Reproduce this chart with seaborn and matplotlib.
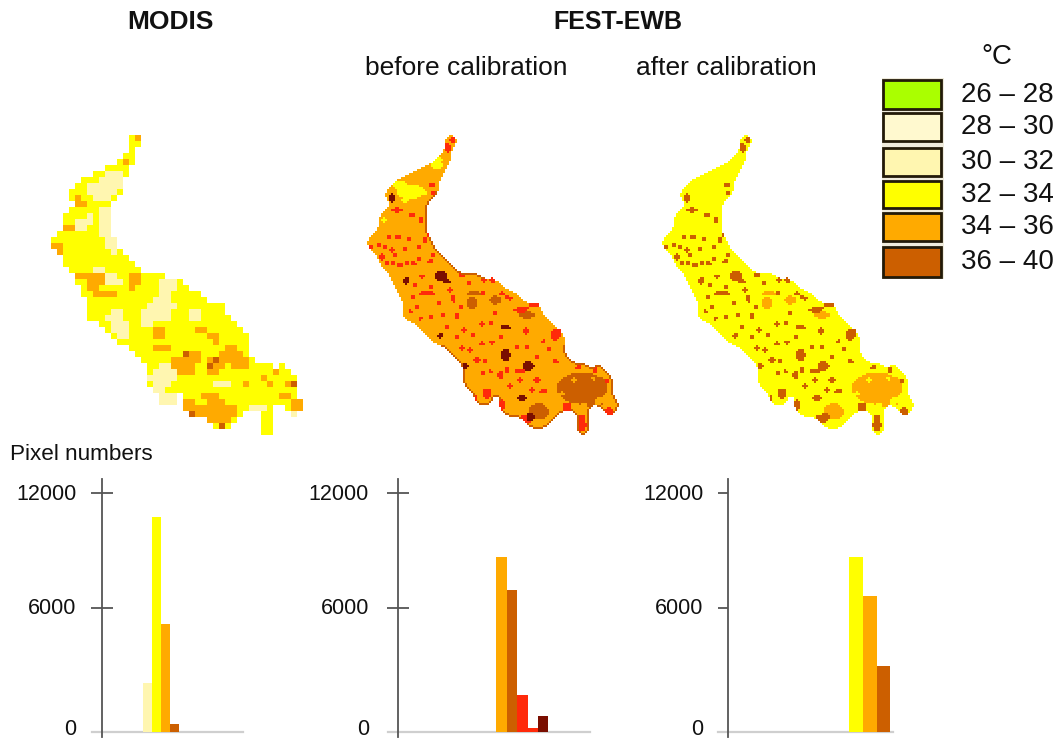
import numpy as np
import matplotlib
matplotlib.use("Agg")
import matplotlib.pyplot as plt
from matplotlib.colors import ListedColormap
from matplotlib.patches import Rectangle
from matplotlib.transforms import ScaledTranslation
import seaborn as sns

sns.set_style("white")
plt.rcParams['font.family'] = ['Liberation Sans', 'DejaVu Sans']

W, H = 1056, 738

# ---- histogram data ----
bins = ['30-32', '32-34', '34-36', '36-40', '40-44', '44-48', '48-52']
modis_counts = [2370, 10750, 5230, 390, 0, 0, 0]
before_counts = [0, 0, 8660, 6940, 1790, 195, 775]
after_counts = [0, 8660, 6630, 3190, 0, 0, 0]
tick_values = [0, 6000, 12000]
tick_labels = ['0', '6000', '12000']
axis_values = [-500, 0, 6000, 12000, 14000]
axis_heights = [-10, 0, 124, 239, 270]

# ---- colours ----
GREEN, PALE1, PALE2, YEL, ORA, DRK, RED, BRN = ('#aaff00', '#fff9cf', '#fff6b0', '#ffff00',
                                                '#ffaa00', '#cc5f00', '#ff2a0a', '#7a0e00')
bar_colors = dict(zip(bins, ['#fff6b0', YEL, ORA, DRK, RED, RED, BRN]))
legend_labels = ['26 – 28', '28 – 30', '30 – 32', '32 – 34', '34 – 36', '36 – 40']
legend_colors = [GREEN, PALE1, PALE2, YEL, ORA, DRK]
legend_tops = [80, 113, 148, 181, 213, 247]
legend_bottoms = [109, 141, 176, 208, 241, 277]

# ---- map outline: row -> inclusive column spans of the 6-px MODIS grid ----
outline = [
    [(13, 14)], [(13, 14)], [(13, 13)], [(12, 13)], [(11, 13)], [(9, 12)], [(7, 12)], [(5, 11)],
    [(4, 11)], [(3, 11)], [(3, 10)], [(4, 9)], [(3, 9)], [(2, 9)], [(2, 9)], [(2, 9)],
    [(1, 9)], [(0, 10)], [(0, 10)], [(1, 11)], [(2, 12)], [(2, 13)], [(3, 14)], [(4, 18)],
    [(4, 21)], [(5, 22)], [(5, 24)], [(6, 25)], [(6, 28)], [(6, 28)], [(6, 29)], [(8, 30)],
    [(9, 31)], [(10, 32)], [(11, 32)], [(13, 32)], [(14, 32)], [(15, 33)], [(16, 36), (38, 38)], [(16, 39)],
    [(16, 40)], [(16, 40)], [(17, 40)], [(18, 20), (22, 40)], [(18, 20), (22, 41)],
    [(22, 32), (33, 36), (39, 41)], [(23, 31), (35, 36), (40, 40)], [(26, 30), (35, 36)],
    [(27, 29), (35, 36)], [(35, 36)],
]

# ---- MODIS patches: (row, first col, last col) ----
modis_pale = [
    (6, 9, 11), (7, 8, 11), (8, 6, 11), (9, 6, 10), (10, 7, 9), (12, 8, 9), (13, 6, 6), (13, 8, 9),
    (14, 4, 6), (14, 8, 9), (15, 4, 5), (15, 8, 9), (16, 8, 9), (17, 9, 10), (18, 9, 10), (19, 10, 10),
    (22, 7, 8), (23, 8, 10), (24, 9, 11), (24, 18, 20), (25, 18, 20), (26, 18, 19),
    (27, 17, 19), (28, 16, 20), (29, 15, 19), (30, 15, 19), (31, 15, 16), (29, 23, 24), (30, 23, 24),
    (29, 10, 11), (30, 9, 11), (31, 10, 12), (32, 10, 12), (33, 11, 12),
    (38, 18, 19), (39, 17, 20), (40, 16, 20), (41, 17, 19), (42, 17, 18), (43, 18, 20), (44, 18, 20),
    (41, 27, 29), (45, 33, 35), (46, 40, 40),
]
modis_orange = [
    (11, 4, 5), (10, 4, 4), (15, 2, 3), (18, 0, 1), (19, 1, 1), (23, 4, 5), (23, 6, 8), (24, 6, 8),
    (25, 6, 7), (26, 7, 10), (23, 13, 14), (24, 13, 14), (25, 13, 13), (32, 17, 18), (33, 17, 18),
    (35, 17, 19), (32, 24, 25), (33, 26, 27), (34, 27, 27), (36, 22, 24), (37, 20, 24), (38, 20, 23),
    (39, 21, 23), (37, 26, 28), (38, 26, 28), (39, 26, 27), (35, 29, 30), (36, 28, 31), (37, 29, 32),
    (38, 30, 32), (44, 22, 23), (45, 22, 23), (46, 23, 23), (43, 25, 27), (44, 26, 28), (45, 24, 30),
    (46, 24, 30), (47, 26, 29), (41, 32, 32), (40, 35, 35), (41, 36, 36), (39, 37, 37), (43, 38, 39),
    (41, 39, 40), (44, 40, 41), (45, 40, 41), (0, 14, 14), (4, 12, 12),
]
modis_dark = [(36, 22, 22), (37, 27, 27), (38, 26, 26), (41, 40, 40), (46, 23, 23), (48, 28, 28)]

# ---- FEST-EWB speckle: (x, y, w, h) on the 1/3-pixel map sheet ----
fest_bumps = [
    (555, 525, 28, 14), (520, 535, 30, 12), (620, 610, 25, 30), (695, 885, 25, 40), (735, 720, 14, 22),
    (685, 712, 18, 14), (770, 755, 14, 12), (480, 505, 10, 12), (455, 490, 10, 12), (425, 450, 10, 10),
    (400, 450, 10, 10), (335, 435, 12, 10), (308, 30, 12, 26), (295, 55, 14, 26),
]
fest_brown = [
    (272, 440, 38, 32), (168, 452, 18, 22), (270, 617, 17, 17), (465, 592, 30, 16), (465, 675, 30, 40),
    (535, 708, 32, 30), (345, 708, 16, 22), (515, 805, 25, 20), (125, 205, 15, 28), (290, 455, 20, 10),
    (540, 860, 25, 25),
]
fest_red = [
    (60, 350, 20, 15), (95, 380, 12, 20), (150, 405, 20, 15), (190, 400, 15, 15), (143, 322, 15, 10),
    (115, 320, 10, 10), (175, 325, 10, 10), (105, 350, 10, 8), (85, 410, 10, 10), (135, 375, 8, 8),
    (165, 355, 10, 8), (230, 490, 45, 12), (190, 500, 12, 8), (240, 395, 20, 8), (205, 350, 8, 8),
    (185, 255, 15, 15), (140, 240, 30, 10), (212, 270, 10, 20), (250, 375, 10, 10), (225, 330, 8, 25),
    (250, 190, 8, 15), (245, 165, 8, 15), (290, 50, 15, 30), (305, 30, 12, 20), (528, 603, 20, 20),
    (615, 615, 30, 35), (550, 525, 25, 12), (510, 540, 40, 15), (510, 723, 30, 12), (405, 695, 15, 10),
    (380, 690, 25, 15), (335, 655, 15, 12), (395, 583, 12, 10), (367, 613, 12, 10), (398, 730, 10, 16),
    (450, 735, 18, 22), (410, 790, 25, 30), (480, 768, 8, 8), (560, 750, 18, 10), (510, 750, 10, 10),
    (425, 638, 8, 10), (310, 505, 10, 25), (320, 560, 8, 18), (265, 520, 10, 10), (210, 565, 10, 8),
    (470, 500, 12, 15), (400, 490, 12, 8), (355, 460, 10, 8), (430, 450, 8, 8), (580, 635, 10, 10),
    (595, 655, 10, 10), (615, 695, 18, 14), (435, 548, 15, 10), (650, 830, 30, 25), (695, 875, 20, 45),
    (775, 845, 25, 25), (530, 865, 40, 25), (455, 825, 14, 35), (375, 805, 15, 15), (235, 310, 8, 20),
    (420, 725, 8, 8), (580, 785, 25, 10),
    (125, 360, 8, 8), (85, 345, 8, 8), (130, 400, 8, 8), (110, 400, 10, 8), (205, 385, 8, 8), (170, 400, 8, 8),
    (215, 440, 8, 8), (240, 470, 8, 8), (195, 465, 8, 8), (300, 480, 8, 8), (330, 530, 8, 8), (290, 590, 8, 8),
    (320, 620, 8, 8), (360, 660, 8, 8), (240, 560, 8, 8), (200, 530, 8, 8), (420, 580, 6, 6), (450, 620, 8, 8),
    (395, 640, 6, 6), (500, 650, 8, 8), (560, 680, 8, 8), (530, 650, 8, 8), (470, 720, 8, 8), (545, 780, 8, 8),
    (340, 600, 6, 6), (280, 555, 6, 6), (180, 545, 8, 8),
]
fest_dark = [
    (695, 775, 150, 95), (650, 765, 50, 50), (740, 760, 50, 40), (720, 815, 80, 30), (565, 845, 60, 50),
    (435, 510, 35, 25), (365, 520, 30, 35), (530, 555, 45, 20), (370, 490, 40, 10),
]
fest_holes = [(730, 745, 14, 14), (670, 750, 12, 12), (745, 815, 24, 24), (700, 825, 16, 10), (635, 790, 14, 14)]
fest_yellow = [
    (180, 185, 85, 45), (150, 165, 40, 25), (260, 105, 35, 28), (215, 190, 30, 15), (165, 210, 20, 10),
    (265, 90, 25, 15), (100, 270, 10, 10),
]
# rim of the "before" map: (first fine row, last fine row, first fine col) kept dark
rim_sections = [(28, 72, 24), (105, 150, 0)]


def axes_px(x0, y0, x1, y1):
    return fig.add_axes([x0 / W, 1 - y1 / H, (x1 - x0) / W, (y1 - y0) / H])


def base_grid():
    g = np.full((50, 42), np.nan)
    for r, spans in enumerate(outline):
        for a, b in spans:
            g[r, a:b + 1] = 1
    return g


def paint_rows(g, items, code):
    for r, a, b in items:
        part = g[r, a:b + 1]
        part[~np.isnan(part)] = code


SHEET_CELL = 6  # sheet units per fine cell


def paint_blobs(g, blobs, code, fill_empty=False):
    rows, cols = np.indices(g.shape)
    xs = cols * SHEET_CELL + 50 + SHEET_CELL / 2
    ys = rows * SHEET_CELL + 15 + SHEET_CELL / 2
    for x, y, w, h in blobs:
        rx, ry = max(w, 14) / 2, max(h, 14) / 2
        hit = ((xs - x) / rx) ** 2 + ((ys - y) / ry) ** 2 <= 1
        if not fill_empty:
            hit &= ~np.isnan(g)
        g[hit] = code


def smooth_mask(land, k=5):
    pad = k // 2
    p = np.pad(land.astype(float), pad)
    c = np.cumsum(np.cumsum(np.pad(p, ((1, 0), (1, 0))), axis=0), axis=1)
    s = c[k:, k:] - c[:-k, k:] - c[k:, :-k] + c[:-k, :-k]
    return s / (k * k) > 0.5


def boundary(land):
    p = np.pad(land, 1)
    inner = p[1:-1, 1:-1] & p[:-2, 1:-1] & p[2:, 1:-1] & p[1:-1, :-2] & p[1:-1, 2:]
    return land & ~inner


fig = plt.figure(figsize=(W / 100, H / 100), dpi=100, facecolor='white')

# ---- maps ----
codes = [PALE2, YEL, ORA, DRK, RED, BRN]   # 0..5
cmap = ListedColormap(codes)


def draw_map(g, x0, y0, cell):
    ax = axes_px(x0, y0, x0 + g.shape[1] * cell, y0 + g.shape[0] * cell)
    sns.heatmap(g, cmap=cmap, vmin=-0.5, vmax=5.5, cbar=False, xticklabels=False,
                yticklabels=False, ax=ax, linewidths=0)
    ax.patch.set_alpha(0)
    return ax


gm = base_grid()
paint_rows(gm, modis_pale, 0)
paint_rows(gm, modis_orange, 2)
paint_rows(gm, modis_dark, 3)
draw_map(gm, 50.7, 135, 6)

land = smooth_mask(np.kron(~np.isnan(base_grid()), np.ones((3, 3), dtype=bool)))
rim = boundary(land)
rim_keep = np.zeros_like(rim)
for r0, r1, c0 in rim_sections:
    rim_keep[r0:r1, c0:] = True

g_before = np.where(land, 2.0, np.nan)
paint_blobs(g_before, fest_bumps, 4, fill_empty=True)
g_before[rim & rim_keep] = 3
paint_blobs(g_before, fest_yellow, 1)
paint_blobs(g_before, fest_dark, 3)
paint_blobs(g_before, fest_holes, 2)
paint_blobs(g_before, fest_red, 4)
paint_blobs(g_before, fest_brown, 5)
draw_map(g_before, 366.7, 135, 2)

g_after = np.where(land, 1.0, np.nan)
paint_blobs(g_after, fest_bumps, 3, fill_empty=True)
paint_blobs(g_after, fest_dark, 2)
paint_blobs(g_after, fest_holes, 1)
paint_blobs(g_after, fest_red, 3)
paint_blobs(g_after, fest_brown, 3)
draw_map(g_after, 661.7, 135, 2)


# ---- histograms ----
def forward(v):
    return np.interp(v, axis_values, axis_heights)


def inverse(h):
    return np.interp(h, axis_heights, axis_values)


label_lift_px = [5, 2, 1]


def draw_hist(counts, x0, x1, spine_x, ref_idx, ref_center, unit, tick_dir, tick_len, pad):
    ax = axes_px(x0, 479, x1, 737)
    sns.barplot(x=bins, y=counts, order=bins, hue=bins, palette=bar_colors, width=1,
                saturation=1, legend=False, linewidth=0, ax=ax)
    ax.set_xlim(ref_idx + (x0 - ref_center) / unit, ref_idx + (x1 - ref_center) / unit)
    ax.set_yscale('function', functions=(forward, inverse))
    ax.set_ylim(inverse(-5), inverse(253))
    ax.set_yticks(tick_values, tick_labels)
    ax.set_xticks([])
    ax.minorticks_off()
    ax.patch.set_alpha(0)
    for s in ('top', 'right'):
        ax.spines[s].set_visible(False)
    ax.spines['left'].set_position(('axes', (spine_x - x0) / (x1 - x0)))
    ax.spines['left'].set_color('#555555')
    ax.spines['left'].set_linewidth(1.3)
    ax.spines['bottom'].set_position(('data', 0))
    ax.spines['bottom'].set_color('#cfcfcf')
    ax.spines['bottom'].set_linewidth(1.6)
    ax.spines['bottom'].set_zorder(0.5)
    ax.tick_params(axis='y', which='major', direction=tick_dir, length=tick_len, width=1.3,
                   color='#555555', labelsize=15.5, labelcolor='#111111', left=True, pad=pad)
    ticks = ax.yaxis.get_major_ticks()
    ticks[0].tick1line.set_visible(False)
    for t, lift in zip(ticks, label_lift_px):
        lab = t.label1
        lab.set_transform(lab.get_transform() + ScaledTranslation(0, lift * 0.72 / 72, fig.dpi_scale_trans))
    return ax


draw_hist(modis_counts, 92, 243, 102, 0, 147.5, 9, 'inout', 15.8, 10.5)
draw_hist(before_counts, 388, 590, 398, 2, 501.5, 10.4, 'inout', 15.8, 13)
draw_hist(after_counts, 718, 893, 728, 1, 856, 13.7, 'out', 7.5, 10)

# ---- legend and texts in pixel coordinates ----
over = fig.add_axes([0, 0, 1, 1])
over.set_xlim(0, W)
over.set_ylim(H, 0)
over.axis('off')
over.patch.set_alpha(0)
over.add_patch(Rectangle((882, 78), 62, 201, facecolor='#efebdc', edgecolor='none'))
for lab, col, t, b in zip(legend_labels, legend_colors, legend_tops, legend_bottoms):
    over.add_patch(Rectangle((883, t), 58, b - t, facecolor=col, edgecolor='#221a08', linewidth=2))
    over.text(1054, (t + b) / 2, lab, ha='right', va='center', fontsize=20, color='#111111')
over.text(997, 57, '°C', ha='center', va='center', fontsize=20, color='#111111')
over.text(170, 22, 'MODIS', ha='center', va='center', fontsize=19, fontweight='bold', color='#111111')
over.text(553, 22, 'FEST-EWB', ha='left', va='center', fontsize=18, fontweight='bold', color='#111111')
over.text(466, 68, 'before calibration', ha='center', va='center', fontsize=19, color='#111111')
over.text(726, 68, 'after calibration', ha='center', va='center', fontsize=19, color='#111111')
over.text(10, 455, 'Pixel numbers', ha='left', va='center', fontsize=16.2, color='#111111')

fig.savefig('out.png', dpi=100)
